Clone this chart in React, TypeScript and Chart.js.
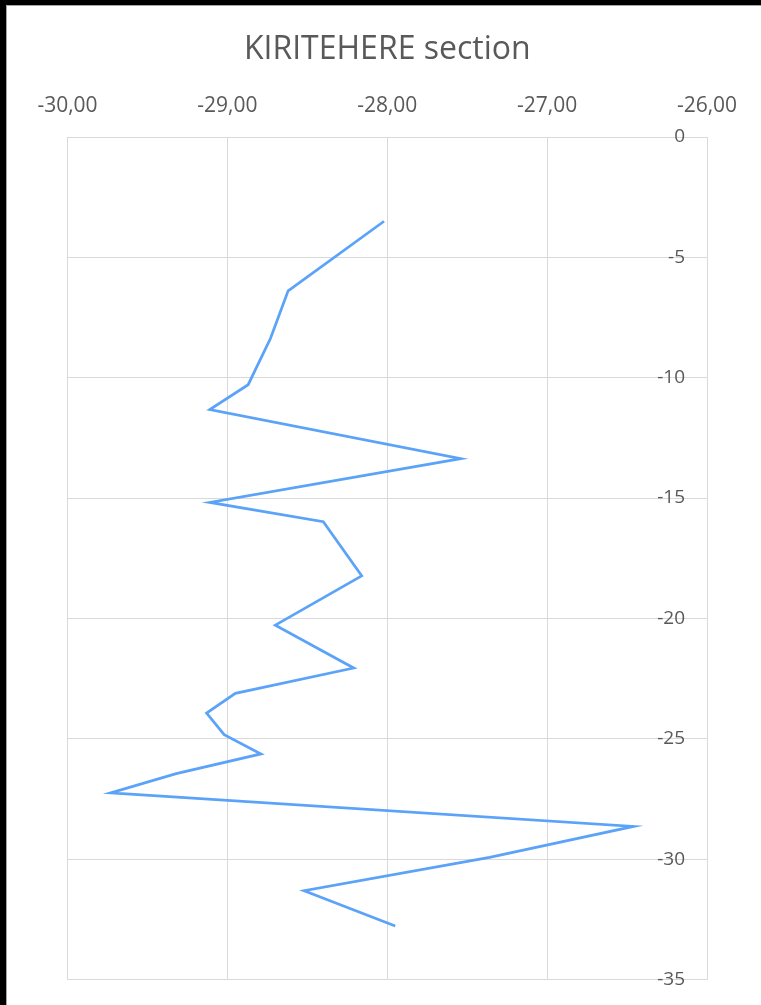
import React, { useEffect, useRef } from "react";
import { Chart, registerables } from "chart.js";

Chart.register(...registerables);

// Section profile: isotope value (top axis) against depth (right axis)
const chartTitle = "KIRITEHERE section";

const isotopeValues = [
  -28.02, -28.62, -28.73, -28.87, -29.11, -27.54, -29.11, -28.4, -28.16, -28.7,
  -28.21, -28.95, -29.13, -29.02, -28.79, -29.32, -29.73, -26.46, -27.36, -28.52,
  -27.95,
];

const depthValues = [
  -3.5, -6.39, -8.36, -10.29, -11.32, -13.36, -15.18, -15.98, -18.23, -20.28,
  -22.06, -23.11, -23.93, -24.83, -25.63, -26.45, -27.25, -28.64, -29.93, -31.31,
  -32.78,
];

const xAxisMin = -30;
const xAxisMax = -26;
const xAxisStep = 1;
const yAxisMin = -35;
const yAxisMax = 0;
const yAxisStep = 5;

const textColor = "#595959";
const gridColor = "#d9d9d9";
const lineColor = "#5BA3F9";
const fontFamily = "'Open Sans', sans-serif";

export default function App() {
  const canvasRef = useRef<HTMLCanvasElement>(null);

  useEffect(() => {
    const canvas = canvasRef.current;
    if (!canvas) return;
    const points = isotopeValues.map((x, i) => ({ x, y: depthValues[i] }));
    const chart = new Chart(canvas, {
      type: "scatter",
      data: {
        datasets: [
          {
            data: points,
            showLine: true,
            borderColor: lineColor,
            backgroundColor: lineColor,
            borderWidth: 2.75,
            pointRadius: 0,
            pointHoverRadius: 0,
            tension: 0,
            fill: false,
          },
        ],
      },
      options: {
        responsive: false,
        animation: false,
        layout: { padding: { left: 60.5, right: 54, top: 0, bottom: 25.5 } },
        plugins: {
          legend: { display: false },
          tooltip: { enabled: false },
          title: {
            display: true,
            text: chartTitle,
            color: textColor,
            font: { family: fontFamily, size: 32, weight: "normal" },
            padding: { top: 24.5, bottom: 10 },
          },
        },
        scales: {
          x: {
            type: "linear",
            position: "top",
            min: xAxisMin,
            max: xAxisMax,
            afterFit: (scale: any) => {
              scale.height = 58.1;
            },
            ticks: {
              stepSize: xAxisStep,
              maxRotation: 0,
              padding: 18,
              color: textColor,
              font: { family: fontFamily, size: 21 },
              callback: (v: any) => Number(v).toFixed(2).replace(".", ","),
            },
            grid: { color: gridColor, lineWidth: 1, drawTicks: false },
            border: { display: true, color: gridColor, width: 1 },
          },
          y: {
            type: "linear",
            position: "right",
            min: yAxisMin,
            max: yAxisMax,
            // labels sit inside the plot, right-aligned against the right edge
            afterFit: (scale: any) => {
              scale.width = 0;
            },
            ticks: {
              stepSize: yAxisStep,
              mirror: true,
              padding: -22,
              color: textColor,
              font: { family: fontFamily, size: 19 },
              callback: (v: any) => String(v),
            },
            grid: { color: gridColor, lineWidth: 1, drawTicks: false },
            border: { display: true, color: gridColor, width: 1 },
          },
        },
      },
    });
    return () => chart.destroy();
  }, []);

  return (
    <div
      style={{
        position: "fixed",
        left: 0,
        top: 0,
        width: 761,
        height: 1005,
        background: "#000",
        overflow: "hidden",
      }}
    >
      <div
        style={{
          position: "absolute",
          left: 6,
          top: 5,
          width: 755,
          height: 1000,
          background: "#fff",
          borderLeft: "1px solid #a6a6a6",
          borderTop: "1px solid #a6a6a6",
          boxSizing: "border-box",
        }}
      >
        <canvas ref={canvasRef} width={754} height={999} style={{ display: "block" }} />
      </div>
    </div>
  );
}
